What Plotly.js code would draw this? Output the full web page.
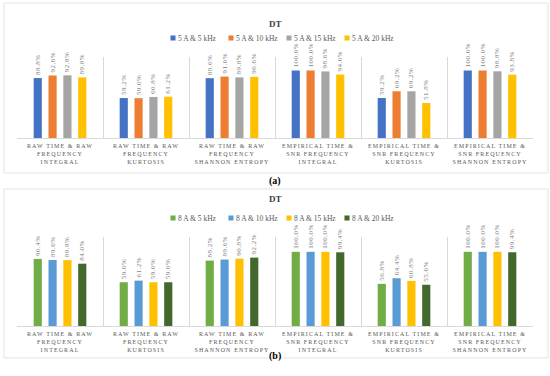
<!DOCTYPE html>
<html><head><meta charset="utf-8">
<script src="https://cdn.plot.ly/plotly-3.0.1.min.js"></script>
<style>
body{margin:0;background:#fff}
#chart{width:550px;height:376px}
.xtick text,.x2tick text{letter-spacing:1.1px}
.bartext{letter-spacing:0.5px}
.legendpoints path{transform:translate(35px,0px) scale(0.42) !important}
.scrollbox{clip-path:none !important}
</style></head><body><div id="chart"></div>
<script>
const categories = [
  "RAW TIME & RAW<br>FREQUENCY<br>INTEGRAL",
  "RAW TIME & RAW<br>FREQUENCY<br>KURTOSIS",
  "RAW TIME & RAW<br>FREQUENCY<br>SHANNON ENTROPY",
  "EMPIRICAL TIME &<br>SNR FREQUENCY<br>INTEGRAL",
  "EMPIRICAL TIME &<br>SNR FREQUENCY<br>KURTOSIS",
  "EMPIRICAL TIME &<br>SNR FREQUENCY<br>SHANNON ENTROPY"
];
// Panel (a): 5 A
const namesA = ["5 A & 5 kHz", "5 A & 10 kHz", "5 A & 15 kHz", "5 A & 20 kHz"];
const a_5kHz  = [88.8, 59.2, 88.6, 100.0, 59.2, 100.0];
const a_10kHz = [92.6, 59.0, 91.0, 100.0, 69.2, 100.0];
const a_15kHz = [92.8, 60.8, 89.8, 98.6, 69.2, 98.8];
const a_20kHz = [89.8, 61.2, 90.6, 94.0, 51.8, 93.8];
const colorsA = ["#4472C4", "#ED7D31", "#A5A5A5", "#FFC000"];
// Panel (b): 8 A
const namesB = ["8 A & 5 kHz", "8 A & 10 kHz", "8 A & 15 kHz", "8 A & 20 kHz"];
const b_5kHz  = [90.4, 59.0, 88.2, 100.0, 56.8, 100.0];
const b_10kHz = [89.0, 61.2, 89.6, 100.0, 64.4, 100.0];
const b_15kHz = [88.8, 59.0, 90.8, 100.0, 60.8, 100.0];
const b_20kHz = [84.0, 59.0, 92.2, 99.4, 55.6, 99.4];
const colorsB = ["#70AD47", "#5B9BD5", "#FFC000", "#43682B"];

const FONT = "Liberation Serif, Times New Roman, serif";
const seriesA = [a_5kHz, a_10kHz, a_15kHz, a_20kHz];
const seriesB = [b_5kHz, b_10kHz, b_15kHz, b_20kHz];

function makeTraces(series, names, colors, xa, ya, leg) {
  return series.map((vals, i) => ({
    type: "bar", x: categories, y: vals, name: names[i],
    xaxis: xa, yaxis: ya, legend: leg,
    marker: {color: colors[i]},
    texttemplate: "%{y:.1f}%", textposition: "outside", textangle: -90,
    constraintext: "none", cliponaxis: false,
    textfont: {family: FONT, size: 7, color: "#808080"},
    hoverinfo: "skip"
  }));
}
const data = makeTraces(seriesA, namesA, colorsA, "x", "y", "legend")
  .concat(makeTraces(seriesB, namesB, colorsB, "x2", "y2", "legend2"));

const P = v => 1 - v / 376;
const xDom = [17 / 550, 533 / 550];
function xAx(anchor) {
  return {domain: xDom, anchor: anchor, type: "category", tickson: "boundaries",
    showgrid: true, gridcolor: "#d9d9d9", gridwidth: 1, showline: true, linecolor: "#d9d9d9",
    ticks: "", tickangle: 0, ticklabelstandoff: 2,
    tickfont: {family: FONT, size: 6, color: "#595959"}, fixedrange: true};
}
function yAx(dom, anchor) {
  return {domain: dom, anchor: anchor, range: [0, 120], showgrid: false, zeroline: false,
    showline: false, showticklabels: false, ticks: "", fixedrange: true};
}
function leg(y) {
  return {orientation: "h", x: 138 / 550, xanchor: "left", y: y, yanchor: "middle",
    itemwidth: 30, entrywidth: 13, entrywidthmode: "pixels",
    font: {family: FONT, size: 7.5, color: "#595959"}, bgcolor: "rgba(0,0,0,0)"};
}
const layout = {
  width: 550, height: 376, margin: {l: 0, r: 0, t: 0, b: 0},
  paper_bgcolor: "#fff", plot_bgcolor: "rgba(0,0,0,0)",
  font: {family: FONT},
  barmode: "group", bargap: 0.31, bargroupgap: 0.45,
  xaxis: xAx("y"), yaxis: yAx([P(138), P(57)], "x"),
  xaxis2: xAx("y2"), yaxis2: yAx([P(326), P(237)], "x2"),
  legend: leg(P(38)), legend2: leg(P(218)),
  shapes: [
    {type: "rect", xref: "paper", yref: "paper", x0: 4 / 550, x1: 548 / 550, y0: P(173), y1: P(3),
      line: {color: "#e3e3e3", width: 1}},
    {type: "rect", xref: "paper", yref: "paper", x0: 4 / 550, x1: 548 / 550, y0: P(358), y1: P(189),
      line: {color: "#e3e3e3", width: 1}}
  ],
  annotations: [
    {text: "<b>DT</b>", xref: "paper", yref: "paper", x: 0.5, y: P(17), showarrow: false,
      font: {family: FONT, size: 9, color: "#404040"}},
    {text: "<b>DT</b>", xref: "paper", yref: "paper", x: 0.5, y: P(199), showarrow: false,
      font: {family: FONT, size: 9, color: "#404040"}},
    {text: "<b>(a)</b>", xref: "paper", yref: "paper", x: 0.5, y: P(181), showarrow: false,
      font: {family: FONT, size: 10, color: "#000"}},
    {text: "<b>(b)</b>", xref: "paper", yref: "paper", x: 0.5, y: P(364), showarrow: false,
      font: {family: FONT, size: 10, color: "#000"}}
  ]
};
Plotly.newPlot("chart", data, layout, {staticPlot: true, displayModeBar: false});
</script></body></html>
